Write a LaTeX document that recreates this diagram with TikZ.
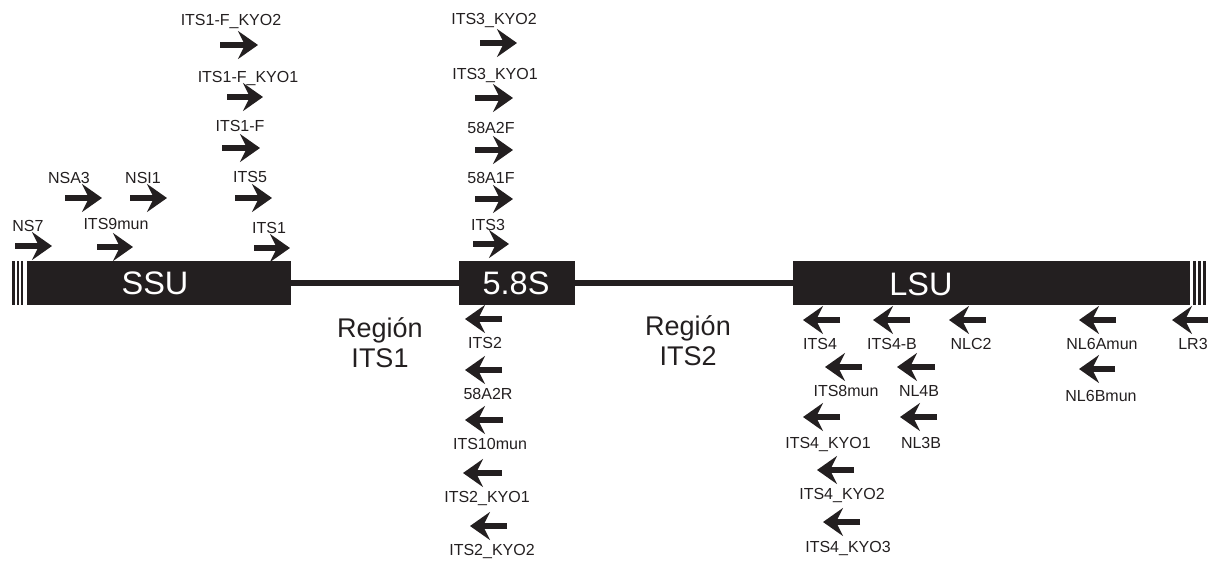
\documentclass[tikz,border=0pt]{standalone}
\usepackage{fontspec}
\setmainfont{Liberation Sans}
\usetikzlibrary{arrows.meta}
\definecolor{ink}{RGB}{35,31,32}
\begin{document}
\begin{tikzpicture}[x=1pt,y=-1pt,
  primer/.style={line width=5.5pt, draw=ink, -{Stealth[length=20pt,width=28pt,inset=7pt]}},
  plabel/.style={anchor=base, font=\fontsize{16}{18}\selectfont, inner sep=0pt, text=ink},
  gene/.style={fill=ink, draw=none, inner sep=0pt, minimum height=44pt},
  genetext/.style={anchor=base, text=white, font=\fontsize{32.5}{36}\selectfont, inner sep=0pt},
  region/.style={anchor=base, text=ink, font=\fontsize{27}{30}\selectfont, inner sep=0pt},
  spacer/.style={line width=6pt, draw=ink}]
\useasboundingbox (0,0) rectangle (1214,560);
% gene boxes
\node[gene, minimum width=264pt] (SSU) at (159,283) {};
\node[gene, minimum width=116pt] (S58) at (517,283) {};
\node[gene, minimum width=397pt] (LSU) at (991.5,283) {};
\node[genetext] (SSUt) at (155,294) {SSU};
\node[genetext] (S58t) at (516,294) {5.8S};
\node[genetext] (LSUt) at (921,295) {LSU};
% spacers
\draw[spacer] (SSU.east) -- (S58.west);
\draw[spacer] (S58.east) -- (LSU.west);
% truncated ends
\fill[ink] (12,261) rectangle (15,305);
\fill[ink] (16.8,261) rectangle (19.3,305);
\fill[ink] (20.8,261) rectangle (23.3,305);
\fill[ink] (1192.5,261) rectangle (1196,305);
\fill[ink] (1198,261) rectangle (1200.7,305);
\fill[ink] (1203,261) rectangle (1206,305);
% region labels
\node[region] (r1a) at (380,337) {Región};
\node[region] (r1b) at (380,367) {ITS1};
\node[region] (r2a) at (688,335) {Región};
\node[region] (r2b) at (688,365) {ITS2};
% forward primers
\foreach \id/\txt/\xa/\xb/\ya/\lx/\ly in {
  ns7/NS7/15/52/246/28/225,
  nsa3/NSA3/65/102/198/69/177,
  nsi1/NSI1/130/167/198/143/177,
  its9/ITS9mun/97/133/247/116/223,
  its5/ITS5/235/272/198/250/176,
  its1/ITS1/254/290/248/269/227,
  its1f/ITS1-F/222/260/148/240/125,
  its1fk1/ITS1-F\_KYO1/227/263/97/248/76,
  its1fk2/ITS1-F\_KYO2/220/258/45/231/19,
  its3/ITS3/473/509/244/488/224,
  a1f/58A1F/475/513/199/491/177,
  a2f/58A2F/475/513/150/491/127,
  its3k1/ITS3\_KYO1/475/513/98/495/73,
  its3k2/ITS3\_KYO2/480/517/43/494/18}
{
  \coordinate (\id s) at (\xa,\ya);
  \coordinate (\id e) at (\xb,\ya);
  \draw[primer] (\id s) -- (\id e);
  \node[plabel] (\id l) at (\lx,\ly+6) {\txt};
}
% reverse primers
\foreach \id/\txt/\xa/\xb/\ya/\lx/\ly in {
  its2/ITS2/465/502/319/485/342,
  a2r/58A2R/465/502/370/488/393,
  its10/ITS10mun/465/503/420/490/443,
  its2k1/ITS2\_KYO1/463/502/473/487/496,
  its2k2/ITS2\_KYO2/470/507/526/492/549,
  its4/ITS4/803/840/320/820/343,
  its4b/ITS4-B/873/910/320/892/343,
  nlc2/NLC2/949/986/320/971/343,
  nl6a/NL6Amun/1079/1116/320/1102/343,
  lr3/LR3/1172/1208/320/1193/343,
  its8/ITS8mun/825/862/367/846/390,
  nl4b/NL4B/897/935/367/919/390,
  nl6b/NL6Bmun/1079/1115/369/1101/395,
  its4k1/ITS4\_KYO1/803/840/417/828/442,
  nl3b/NL3B/900/937/417/921/442,
  its4k2/ITS4\_KYO2/817/854/470/842/493,
  its4k3/ITS4\_KYO3/823/860/522/848/546}
{
  \coordinate (\id s) at (\xb,\ya);
  \coordinate (\id e) at (\xa,\ya);
  \draw[primer] (\id s) -- (\id e);
  \node[plabel] (\id l) at (\lx,\ly+6) {\txt};
}
\end{tikzpicture}
\end{document}
